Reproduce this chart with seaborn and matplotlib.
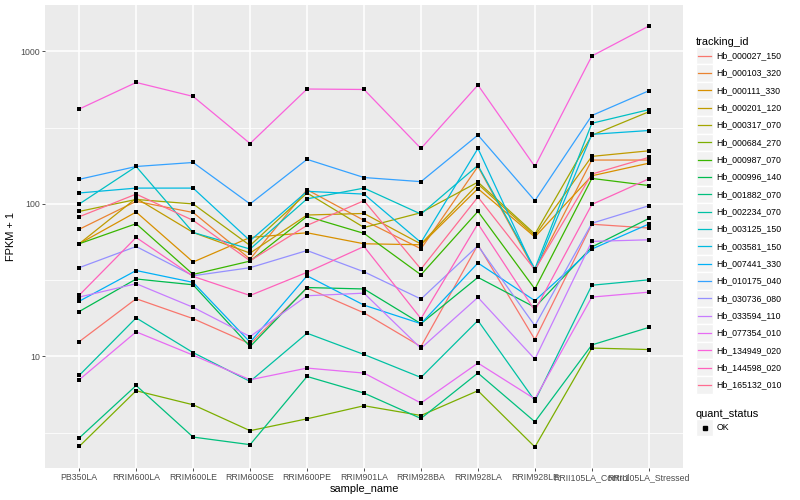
# FPKM profiles of 20 tracking ids across rubber tree samples
# log scale line chart, ggplot-like look built with seaborn / matplotlib

import numpy as np
import pandas as pd
import matplotlib
matplotlib.use('Agg')
import matplotlib.pyplot as plt
import seaborn as sns
from matplotlib.legend_handler import HandlerBase
from matplotlib.lines import Line2D
from matplotlib.patches import Rectangle

samples = ['PB350LA', 'RRIM600LA', 'RRIM600LE', 'RRIM600SE', 'RRIM600PE',
           'RRIM901LA', 'RRIM928BA', 'RRIM928LA', 'RRIM928LE',
           'RRII105LA_Control', 'RRII105LA_Stressed']

tracking_ids = ['Hb_000027_150', 'Hb_000103_320', 'Hb_000111_330', 'Hb_000201_120',
                'Hb_000317_070', 'Hb_000684_270', 'Hb_000987_070', 'Hb_000996_140',
                'Hb_001882_070', 'Hb_002234_070', 'Hb_003125_150', 'Hb_003581_150',
                'Hb_007441_330', 'Hb_010175_040', 'Hb_030736_080', 'Hb_033594_110',
                'Hb_077354_010', 'Hb_134949_020', 'Hb_144598_020', 'Hb_165132_010']

# ggplot default hue palette for 20 levels
colors = ['#F8766D', '#EA8331', '#D89000', '#C09B00', '#A3A500', '#7CAE00',
          '#39B600', '#00BB4E', '#00BF7D', '#00C1A3', '#00BFC4', '#00BAE0',
          '#00B0F6', '#35A2FF', '#9590FF', '#C77CFF', '#E76BF3', '#FA62DB',
          '#FF62BC', '#FF6C91']

# FPKM + 1, one list per tracking id, in sample order
hb_000027_150 = [12.5, 23.9, 17.7, 12.1, 28.1, 19.3, 11.6, 54.0, 12.9, 73.6, 69.5]
hb_000103_320 = [68.2, 104, 87.9, 43.5, 124, 78.0, 50.8, 176, 36.6, 194, 194]
hb_000111_330 = [54.8, 88.5, 41.6, 60.3, 64.7, 54.8, 54.0, 126, 60.7, 153, 185]
hb_000201_120 = [54.8, 109, 65.0, 47.6, 84.6, 86.6, 54.6, 135, 61.9, 205, 223]
hb_000317_070 = [89.3, 107, 100, 53.4, 118, 70.1, 87.6, 139, 63.5, 282, 402]
hb_000684_270 = [2.57, 5.96, 4.82, 3.26, 3.90, 4.75, 4.10, 5.96, 2.55, 11.35, 11.1]
hb_000987_070 = [54.8, 74.2, 34.5, 42.2, 82.8, 64.1, 34.3, 89.3, 27.7, 147, 132]
hb_000996_140 = [19.7, 32.2, 29.5, 11.6, 28.3, 27.7, 16.4, 33.0, 21.0, 52.2, 80.3]
hb_001882_070 = [2.92, 6.45, 2.96, 2.64, 7.39, 5.75, 3.92, 7.78, 3.73, 11.9, 15.5]
hb_002234_070 = [7.51, 17.9, 10.6, 6.86, 14.2, 10.3, 7.28, 17.2, 5.12, 29.3, 31.8]
hb_003125_150 = [99.8, 176, 65.0, 50.6, 108, 127, 85.8, 179, 37.6, 338, 415]
hb_003581_150 = [118, 127, 127, 57.4, 121, 116, 55.9, 231, 36.1, 286, 303]
hb_007441_330 = [23.0, 36.6, 30.6, 12.4, 33.8, 21.7, 16.4, 41.0, 23.2, 50.6, 73.8]
hb_010175_040 = [145, 176, 187, 100, 196, 149, 140, 283, 105, 380, 552]
hb_030736_080 = [38.2, 52.6, 33.8, 38.2, 49.5, 35.9, 23.8, 53.2, 15.9, 74.7, 97.3]
hb_033594_110 = [24.5, 30.0, 21.0, 13.5, 25.0, 26.0, 11.3, 24.4, 9.6, 56.8, 58.2]
hb_077354_010 = [7.03, 14.5, 10.2, 7.03, 8.39, 7.78, 4.95, 9.05, 5.26, 24.5, 26.4]
hb_134949_020 = [419, 626, 507, 249, 567, 563, 231, 602, 176, 933, 1467]
hb_144598_020 = [25.2, 60.3, 33.5, 25.1, 35.6, 52.6, 17.7, 74.2, 20.0, 99.2, 146]
hb_165132_010 = [82.4, 116, 78.0, 42.4, 72.3, 105, 37.4, 111, 37.0, 157, 202]

fpkm = [hb_000027_150, hb_000103_320, hb_000111_330, hb_000201_120, hb_000317_070,
        hb_000684_270, hb_000987_070, hb_000996_140, hb_001882_070, hb_002234_070,
        hb_003125_150, hb_003581_150, hb_007441_330, hb_010175_040, hb_030736_080,
        hb_033594_110, hb_077354_010, hb_134949_020, hb_144598_020, hb_165132_010]

# long format table
rows = []
for tid, vals in zip(tracking_ids, fpkm):
    for i, v in enumerate(vals):
        rows.append({'tracking_id': tid, 'sample_idx': i,
                     'sample_name': samples[i], 'value': v, 'quant_status': 'OK'})
df = pd.DataFrame(rows)

plt.rcParams['font.family'] = ['Liberation Sans', 'DejaVu Sans']

fig = plt.figure(figsize=(8, 5), dpi=100)
ax = fig.add_axes([45 / 800, 32 / 500, 638 / 800, 463 / 500])
ax.set_facecolor('#EBEBEB')

sns.lineplot(data=df, x='sample_idx', y='value', hue='tracking_id',
             hue_order=tracking_ids, palette=colors, estimator=None,
             sort=False, lw=0.9, legend=False, ax=ax)
sns.scatterplot(data=df, x='sample_idx', y='value', color='black', s=10,
                marker='s', linewidth=0, legend=False, ax=ax, zorder=3)

ax.set_yscale('log')
lo = np.log10(df['value'].min())
hi = np.log10(df['value'].max())
span = hi - lo
ax.set_ylim(10 ** (lo - 0.05 * span), 10 ** (hi + 0.05 * span))
ax.set_xlim(-0.6, len(samples) - 0.4)

ax.set_yticks([10, 100, 1000])
ax.set_yticklabels(['10', '100', '1000'])
ax.set_yticks([10 ** 0.5, 10 ** 1.5, 10 ** 2.5], minor=True)
ax.set_yticklabels([], minor=True)
ax.set_xticks(range(len(samples)))
ax.set_xticklabels(samples)

ax.grid(which='major', color='white', lw=1.1)
ax.grid(which='minor', axis='y', color='white', lw=0.55)
ax.set_axisbelow(True)
for s in ax.spines.values():
    s.set_visible(False)
ax.tick_params(which='major', length=2.2, width=0.6, color='#333333',
               labelsize=6.3, labelcolor='#4D4D4D', pad=1.5)
ax.tick_params(which='minor', length=0)

ax.set_xlabel('sample_name', fontsize=7.9, labelpad=1.5)
ax.set_ylabel('FPKM + 1', fontsize=7.9, labelpad=3)


# legend key: grey square with the glyph drawn on top, like ggplot
class KeyHandler(HandlerBase):
    def create_artists(self, legend, orig_handle, xdescent, ydescent,
                       width, height, fontsize, trans):
        bg = Rectangle((-xdescent, -ydescent), width, height,
                       facecolor='#F2F2F2', edgecolor='white', lw=1.0,
                       transform=trans)
        if orig_handle.get_marker() not in (None, 'None', ''):
            art = Line2D([width / 2 - xdescent], [height / 2 - ydescent],
                         marker='s', ms=2.6, color='black', ls='',
                         transform=trans)
        else:
            art = Line2D([width * 0.12 - xdescent, width * 0.88 - xdescent],
                         [height / 2 - ydescent] * 2,
                         color=orig_handle.get_color(), lw=0.9,
                         transform=trans)
        return [bg, art]


leg_kw = dict(loc='upper left', frameon=False, fontsize=6.3, title_fontsize=7.9,
              handlelength=1.98, handleheight=2.67, labelspacing=0,
              handletextpad=0.35, borderaxespad=0, borderpad=0,
              alignment='left', handler_map={Line2D: KeyHandler()})

id_handles = [Line2D([], [], color=c, lw=0.9) for c in colors]
leg1 = fig.legend(id_handles, tracking_ids, title='tracking_id',
                  bbox_to_anchor=(696 / 800, 1 - 37 / 500), **leg_kw)

ok_handle = [Line2D([], [], marker='s', color='black', ls='')]
leg2 = fig.legend(ok_handle, ['OK'], title='quant_status',
                  bbox_to_anchor=(696 / 800, 1 - 409 / 500), **leg_kw)

fig.savefig('out.png', dpi=100)
